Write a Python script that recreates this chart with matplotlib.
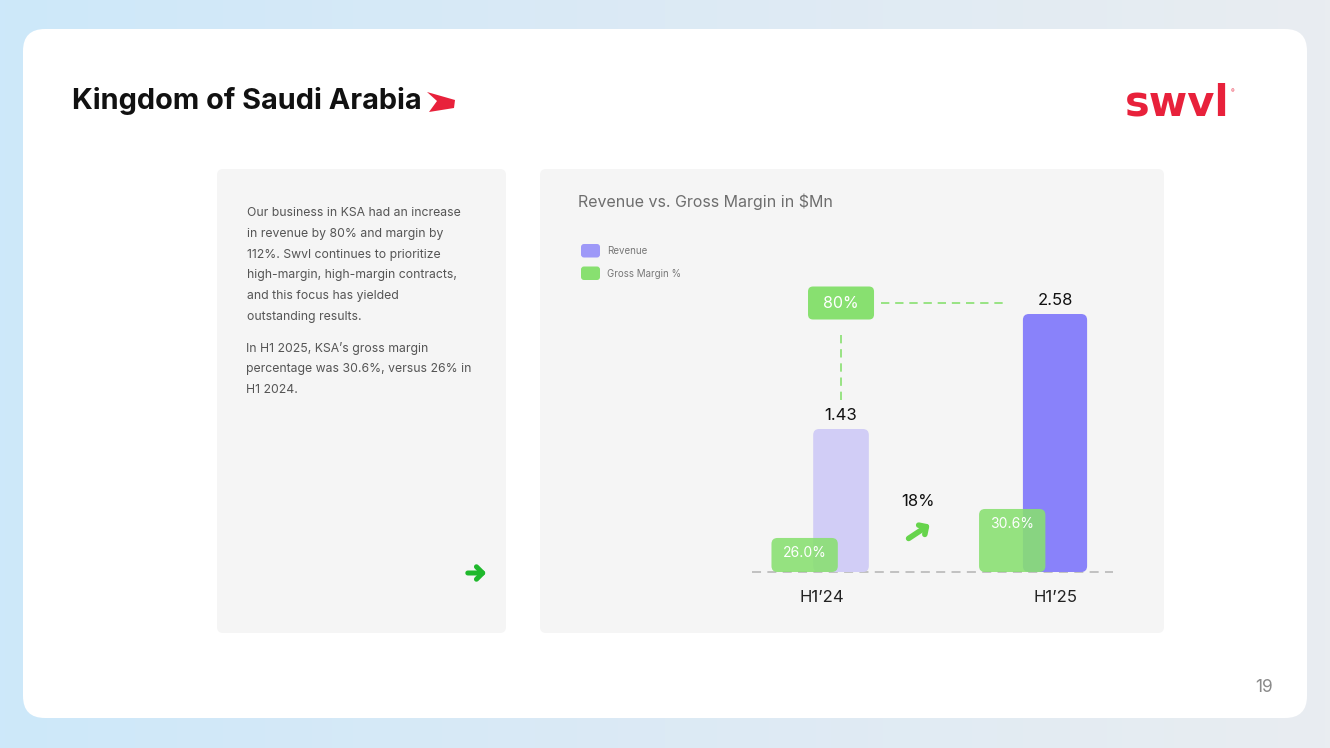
import numpy as np
import matplotlib
matplotlib.use("Agg")
import matplotlib.pyplot as plt
from matplotlib.patches import FancyBboxPatch, Polygon

# ---------------- data ----------------
periods = ["H1\u201924", "H1\u201925"]
revenue = [1.43, 2.58]            # $Mn
gross_margin = [26.0, 30.6]       # %
legend_labels = ["Revenue", "Gross Margin %"]
title_text = "Kingdom of Saudi Arabia"
chart_title = "Revenue vs. Gross Margin in $Mn"
body_para1 = ["Our business in KSA had an increase",
              "in revenue by 80% and margin by",
              "112%. Swvl continues to prioritize",
              "high-margin, high-margin contracts,",
              "and this focus has yielded",
              "outstanding results."]
body_para2 = ["In H1 2025, KSA\u2019s gross margin",
              "percentage was 30.6%, versus 26% in",
              "H1 2024."]
page_number = "19"

rev_growth = revenue[1] / revenue[0] - 1
gm_growth = gross_margin[1] / gross_margin[0] - 1

# ---------------- style ----------------
FONT = "Inter"
plt.rcParams["font.family"] = [FONT, "DejaVu Sans"]
RED = "#E8213B"
GREEN = "#88E070"
REV_COLORS = ["#D1CDF6", "#8982FA"]
W, H = 1330, 748

fig = plt.figure(figsize=(W / 100, H / 100), dpi=100)

# overlay axes in pixel coordinates
bg = fig.add_axes([0, 0, 1, 1], zorder=0)
bg.set_xlim(0, W)
bg.set_ylim(H, 0)
bg.axis("off")

# gradient background
grad = np.linspace(0, 1, 256)[None, :]
cmap = matplotlib.colors.LinearSegmentedColormap.from_list("bg", ["#CDE8FA", "#DCEAF5", "#E9EDF1"])
bg.imshow(grad, extent=(0, W, H, 0), aspect="auto", cmap=cmap, zorder=0)


def rrect(ax, x, y, w, h, r, fc, z=1, alpha=1.0):
    p = FancyBboxPatch((x, y), w, h, boxstyle=f"round,pad=0,rounding_size={r}",
                       fc=fc, ec="none", zorder=z, alpha=alpha)
    ax.add_patch(p)
    return p


# white card and panels
rrect(bg, 23, 29, 1284, 689, 22, "white", z=1)
rrect(bg, 217, 169, 289, 464, 6, "#F5F5F5", z=2)
rrect(bg, 540, 169, 624, 464, 6, "#F5F5F5", z=2)

# title
bg.text(72, 101, title_text, fontsize=20.8, fontweight="bold", color="#111111",
        va="center", ha="left", zorder=3)
bg.add_patch(Polygon([(427, 92), (455, 100), (454, 108), (429, 112), (437, 101)],
                     closed=True, fc=RED, ec="none", zorder=3))

# logo
bg.text(1177, 103, "swvl", fontsize=30, fontweight="bold", family=["DejaVu Sans"],
        color=RED, ha="center", va="center", zorder=3)
bg.text(1233, 92, "\u00ae", fontsize=4, color=RED, ha="center", va="center", zorder=3)

# page number
bg.text(1264, 688, page_number, fontsize=12.5, color="#8A8A8A", ha="center", va="center", zorder=3)

# left body text
y = 213
for line in body_para1:
    bg.text(247, y, line, fontsize=8.8, color="#555555", va="center", ha="left", zorder=3)
    y += 20.8
y = 348
for line in body_para2:
    bg.text(246, y, line, fontsize=8.8, color="#555555", va="center", ha="left", zorder=3)
    y += 20.8

# green arrow in left panel
bg.annotate("", xy=(489, 573), xytext=(465, 573),
            arrowprops=dict(arrowstyle="->,head_length=0.45,head_width=0.45",
                            lw=3.6, color="#1FB82C"), zorder=3)

# chart title
bg.text(578, 202, chart_title, fontsize=11.5, color="#6E6E6E", va="center", ha="left", zorder=3)

# legend
leg_colors = ["#9E99F8", GREEN]
for i, (lab, c) in enumerate(zip(legend_labels, leg_colors)):
    yy = 244 + i * 22.5
    rrect(bg, 581, yy, 19, 13.5, 3, c, z=3)
    bg.text(607, yy + 7, lab, fontsize=7, color="#777777", va="center", ha="left", zorder=3)

# ---------------- chart axes ----------------
ax_l, ax_r, ax_b, ax_t = 752, 1113, 572, 272
ax = fig.add_axes([ax_l / W, 1 - ax_b / H, (ax_r - ax_l) / W, (ax_b - ax_t) / H], zorder=5)
ax.patch.set_alpha(0)
x = np.arange(len(periods))
ax.set_xlim(-0.416, 1.271)
ax.set_ylim(0, 3.0)
for s in ax.spines.values():
    s.set_visible(False)
ax.set_yticks([])
ax.tick_params(axis="x", length=0, pad=13, labelsize=12, labelcolor="#222222")
label_shift = [-0.09, 0.0]
ax.set_xticks(x + np.array(label_shift))
ax.set_xticklabels(periods)

ax2 = ax.twinx()
ax2.set_zorder(6)
ax2.patch.set_alpha(0)
ax2.set_ylim(20.6, 68.2)
for s in ax2.spines.values():
    s.set_visible(False)
ax2.set_yticks([])


def px_per_unit(a):
    p0 = a.transData.transform((0, 0))
    p1 = a.transData.transform((1, 1))
    return p1[0] - p0[0], p1[1] - p0[1]


def round_bars(a, bars, r_px, colors, alpha=1.0, z=2):
    sx, sy = px_per_unit(a)
    r = r_px / sx
    aspect = sx / sy
    for b, c in zip(bars, colors):
        b.set_visible(False)
        p = FancyBboxPatch((b.get_x(), b.get_y()), b.get_width(), b.get_height(),
                           boxstyle=f"round,pad=0,rounding_size={r}",
                           mutation_aspect=aspect, fc=c, ec="none", alpha=alpha, zorder=z)
        a.add_patch(p)


# revenue bars
rev_w = [0.26, 0.30]
rev_bars = ax.bar(x, revenue, width=rev_w)
round_bars(ax, rev_bars, 6, REV_COLORS)
for xi, v in zip(x, revenue):
    ax.annotate(f"{v:.2f}", (xi, v), xytext=(0, 4), textcoords="offset points",
                ha="center", va="bottom", fontsize=12, color="#111111")

# gross margin boxes
gm_x = x - np.array([0.17, 0.20])
gm_bars = ax2.bar(gm_x, gross_margin, width=0.31, bottom=20.6)
for b, v in zip(gm_bars, gross_margin):
    b.set_height(v - 20.6)
round_bars(ax2, gm_bars, 6, [GREEN, GREEN], alpha=0.88, z=3)
for xi, v in zip(gm_x, gross_margin):
    ax2.annotate(f"{v:.1f}%", (xi, v), xytext=(0, -11), textcoords="offset points",
                 ha="center", va="center", fontsize=10, color="white", zorder=4)

# baseline
ax.axhline(0, color="#BDBDBD", lw=1.3, ls=(0, (5, 3.5)), zorder=1, clip_on=False)

# revenue growth box and dashed connectors
top_y = revenue[1] + 0.11
sx, sy = px_per_unit(ax)
box_w, box_h = 66 / sx, 33 / sy
p = FancyBboxPatch((x[0] - box_w / 2, top_y - box_h / 2), box_w, box_h,
                   boxstyle=f"round,pad=0,rounding_size={5 / sx}", mutation_aspect=sx / sy,
                   fc=GREEN, ec="none", zorder=4, clip_on=False)
ax.add_patch(p)
ax.text(x[0], top_y, f"{rev_growth:.0%}", ha="center", va="center", fontsize=11.5,
        color="white", zorder=5)
ax.plot([x[0], x[0]], [revenue[0] + 0.29, revenue[0] + 0.99], color=GREEN, lw=1.2,
        ls=(0, (5, 3.5)), zorder=2)
ax.plot([x[0] + 0.185, x[1] - 0.245], [top_y, top_y], color=GREEN, lw=1.2,
        ls=(0, (5, 3.5)), zorder=2)

# margin growth
ax.text(0.36, 0.70, f"{gm_growth:.0%}", ha="center", va="center", fontsize=12, color="#111111")
ax.annotate("", xy=(0.425, 0.49), xytext=(0.305, 0.32),
            arrowprops=dict(arrowstyle="->,head_length=0.4,head_width=0.4",
                            lw=4, color="#66D44C"))

fig.savefig("out.png", dpi=100)
